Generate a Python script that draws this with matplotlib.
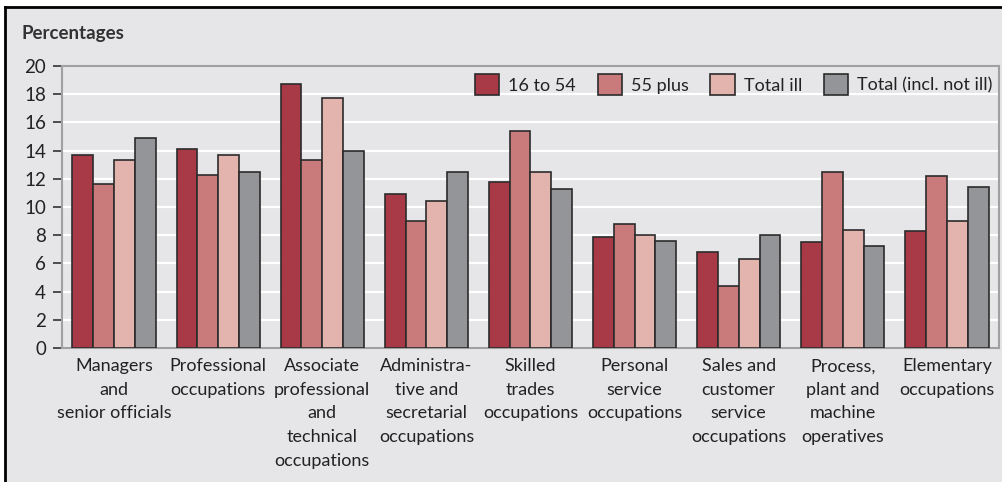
import matplotlib
matplotlib.use("Agg")
import matplotlib.pyplot as plt
from matplotlib.patches import Rectangle
from matplotlib.lines import Line2D
import numpy as np

categories = [
    "Managers\nand\nsenior officials",
    "Professional\noccupations",
    "Associate\nprofessional\nand\ntechnical\noccupations",
    "Administra-\ntive and\nsecretarial\noccupations",
    "Skilled\ntrades\noccupations",
    "Personal\nservice\noccupations",
    "Sales and\ncustomer\nservice\noccupations",
    "Process,\nplant and\nmachine\noperatives",
    "Elementary\noccupations",
]
series_names = ["16 to 54", "55 plus", "Total ill", "Total (incl. not ill)"]
age_16_54 = [13.7, 14.1, 18.7, 10.9, 11.8, 7.9, 6.8, 7.5, 8.3]
age_55_plus = [11.6, 12.3, 13.3, 9.0, 15.4, 8.8, 4.4, 12.5, 12.2]
total_ill = [13.3, 13.7, 17.7, 10.4, 12.5, 8.0, 6.3, 8.4, 9.0]
total_all = [14.9, 12.5, 14.0, 12.5, 11.3, 7.6, 8.0, 7.2, 11.4]
yticks = list(range(0, 21, 2))

colors = ["#a83a48", "#c97b7b", "#e3b3ae", "#939598"]
bg = "#e6e6e8"

plt.rcParams["font.family"] = ["Lato", "DejaVu Sans"]

fig = plt.figure(figsize=(10.03, 4.82), dpi=100)
fig.patch.set_facecolor("white")
W, H = 1003, 482
# background panel with black top/left border
fig.patches.append(Rectangle((5 / W, 0), 1 - 5 / W, 1 - 7 / H, transform=fig.transFigure,
                             facecolor=bg, edgecolor="none", zorder=-10))
fig.lines.append(Line2D([5 / W, 1], [1 - 7 / H, 1 - 7 / H], transform=fig.transFigure,
                        color="black", linewidth=2, zorder=-5))
fig.lines.append(Line2D([5 / W, 5 / W], [0, 1 - 7 / H], transform=fig.transFigure,
                        color="black", linewidth=2, zorder=-5))

ax = fig.add_axes([62 / W, 1 - 348 / H, (999 - 62) / W, (348 - 66) / H])
ax.set_zorder(1)
ax.set_facecolor(bg)

data = [age_16_54, age_55_plus, total_ill, total_all]
x = np.arange(len(categories))
bw = 0.2
for j, (vals, c, name) in enumerate(zip(data, colors, series_names)):
    ax.bar(x + (j - 1.5) * bw, vals, width=bw, color=c, edgecolor="#2b2b2b",
           linewidth=1.2, label=name, zorder=3)

ax.set_xlim(-0.5, len(categories) - 0.5)
ax.set_ylim(0, 20)
ax.set_yticks(yticks)
ax.set_yticklabels([str(t) for t in yticks], fontsize=13.5, color="#222222")
ax.yaxis.grid(True, color="white", linewidth=1.6, zorder=0)
ax.set_axisbelow(True)
ax.tick_params(axis="y", length=6.5, width=1.2, color="#333333", pad=5)
ax.set_xticks(x)
ax.set_xticklabels(categories, fontsize=13, color="#222222", linespacing=1.58)
ax.tick_params(axis="x", length=0, pad=7.5)
for s in ax.spines.values():
    s.set_color("#a0a0a0")
    s.set_linewidth(1.5)

leg = ax.legend(loc="center right", bbox_to_anchor=(992 / W, 1 - 84.5 / H),
                bbox_transform=fig.transFigure, ncol=4, frameon=False,
                fontsize=13, handlelength=1.33, handleheight=1.33,
                handletextpad=0.5, columnspacing=1.2, borderpad=0, borderaxespad=0)
for t in leg.get_texts():
    t.set_color("#222222")

fig.text(22 / W, 1 - 33 / H, "Percentages", fontsize=13.5, fontweight="bold",
         color="#333333", va="center", ha="left")

fig.savefig("out.png", dpi=100, facecolor=fig.get_facecolor())
